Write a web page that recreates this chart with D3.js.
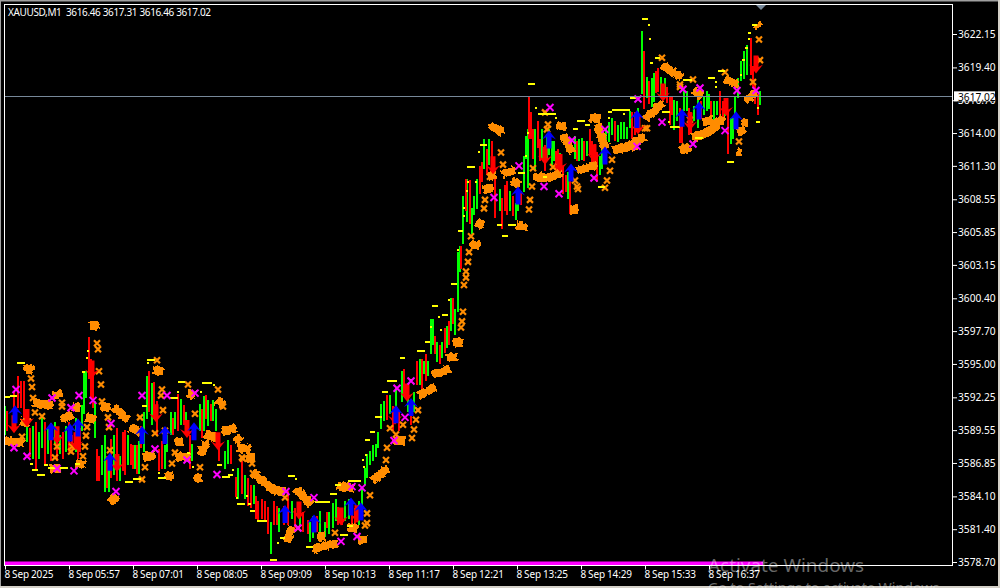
<!DOCTYPE html>
<html><head><meta charset="utf-8">
<script src="https://cdn.jsdelivr.net/npm/d3@7/dist/d3.min.js"></script>
<style>html,body{margin:0;padding:0;background:#000;overflow:hidden}svg{display:block}text{font-family:"Noto Sans",sans-serif}</style>
</head><body><svg id="c" width="1000" height="588"></svg>
<script>
const symbolTitle = "XAUUSD,M1  3616.46 3617.31 3616.46 3617.02";
const lastPrice = 3617.02;
const priceTicks = [3622.15,3619.40,3616.70,3614.00,3611.30,3608.55,3605.85,3603.15,3600.40,3597.70,3595.00,3592.25,3589.55,3586.85,3584.10,3581.40,3578.70];
const timeTickBars = [5,69,133,197,261,325,389,453,517,581,645,709];
const timeTickLabels = ["8 Sep 2025","8 Sep 05:57","8 Sep 07:01","8 Sep 08:05","8 Sep 09:09","8 Sep 10:13","8 Sep 11:17","8 Sep 12:21","8 Sep 13:25","8 Sep 14:29","8 Sep 15:33","8 Sep 16:37"];
const floorLine = {start:5,end:763,price:3578.55};
const lastBar = 761;

// [bar, high, low]
const greenBars = [[5,3591.4,3589.3],[27,3590.6,3588.7],[33,3589.8,3587.3],[39,3589.3,3587.3],[42,3590.4,3588.2],[48,3589.6,3587.7],[55,3590.1,3588.5],[60,3589.0,3587.7],[66,3589.8,3587.9],[76,3590.4,3587.9],[82,3591.5,3589.6],[84,3594.3,3591.0],[86,3594.3,3592.3],[95,3591.8,3589.0],[102,3588.2,3586.0],[105,3589.0,3584.6],[109,3586.8,3584.6],[114,3589.0,3586.0],[120,3587.3,3585.5],
[128,3589.0,3586.8],[135,3588.2,3586.5],[139,3588.5,3586.1],[144,3590.9,3587.9],[147,3593.9,3590.6],[152,3593.3,3590.1],[165,3588.2,3586.5],[167,3589.0,3587.9],[171,3590.9,3589.3],[175,3590.9,3589.8],[181,3592.0,3590.1],[186,3590.9,3589.3],[192,3588.3,3587.1],[200,3591.6,3589.6],[204,3592.2,3589.6],[208,3591.9,3590.0],[213,3591.9,3590.4],[216,3591.2,3589.6],[225,3587.7,3586.5],[228,3588.6,3586.9],[238,3586.3,3584.0],[245,3585.7,3584.0],[254,3584.9,3583.6],
[271,3581.9,3579.5],[279,3583.0,3581.3],[292,3583.6,3582.4],[300,3583.2,3581.9],[310,3581.9,3580.5],[313,3582.4,3580.8],[320,3582.8,3581.3],[325,3581.9,3580.9],[329,3582.7,3581.1],[333,3583.4,3581.6],[336,3583.8,3582.2],[345,3583.6,3582.2],[349,3583.8,3582.4],[359,3583.6,3581.9],[362,3584.6,3582.4],[365,3586.3,3585.2],[367,3587.5,3585.7],[370,3587.7,3586.8],[373,3588.2,3587.1],[376,3588.3,3587.5],[378,3589.3,3588.2],[381,3591.6,3589.8],[384,3591.8,3590.4],[390,3592.3,3591.0],[396,3592.9,3590.6],[402,3594.3,3592.0],[408,3592.6,3591.2],[414,3592.6,3591.2],[420,3595.3,3593.4],[424,3595.1,3594.3],[428,3595.1,3594.1],
[431,3598.6,3595.9],[433,3598.6,3596.7],[437,3596.7,3595.3],[442,3596.7,3595.6],[447,3598.0,3596.4],[451,3600.3,3597.8],[455,3599.4,3597.5],[458,3604.1,3599.4],[460,3604.6,3602.7],[463,3608.7,3605.0],[467,3610.1,3606.8],[472,3607.7,3605.8],[474,3608.7,3607.4],[477,3610.1,3607.9],[484,3613.4,3611.2],[489,3613.4,3611.5],[500,3609.3,3607.7],[510,3609.1,3607.7],[516,3608.1,3607.0],[518,3609.3,3607.7],[524,3612.0,3609.3],[526,3613.6,3612.0],[528,3614.2,3609.6],
[535,3614.2,3611.0],[542,3614.2,3612.0],[547,3613.8,3612.0],[549,3614.2,3612.3],[552,3613.2,3611.5],[554,3613.2,3611.8],[560,3612.2,3611.2],[568,3610.7,3608.7],[575,3613.6,3612.0],[579,3613.4,3611.8],[582,3613.5,3611.9],[587,3613.2,3612.2],[600,3612.0,3610.7],[602,3612.6,3611.2],[606,3614.2,3613.2],[609,3614.8,3613.4],[612,3615.1,3614.0],[618,3614.5,3613.4],[621,3614.8,3613.6],[624,3614.8,3613.6],[627,3614.4,3613.6],[630,3615.7,3614.5],[638,3615.9,3614.8],
[642,3622.3,3617.3],[647,3618.5,3617.0],[652,3618.4,3616.3],[654,3618.8,3616.7],[661,3618.5,3617.0],[665,3618.4,3617.1],[674,3616.6,3614.4],[677,3616.5,3615.1],[684,3617.3,3615.9],[687,3617.3,3615.9],[694,3616.1,3615.1],[698,3616.6,3614.5],[704,3616.9,3615.6],[707,3617.3,3615.9],[709,3617.1,3616.1],[714,3616.5,3615.1],[717,3616.5,3615.6],[725,3616.7,3615.5],[731,3615.1,3613.2],[733,3615.1,3613.6],[735,3616.9,3614.5],[738,3618.4,3617.0],[741,3619.8,3618.4],[744,3620.6,3618.6],[747,3621.1,3618.9],[760,3617.31,3616.46]];
const redBars = [[7,3591.0,3589.6],[14,3592.6,3590.1],[18,3593.9,3591.5],[21,3593.5,3591.5],[24,3593.5,3590.6],[30,3589.6,3587.5],[36,3590.1,3586.5],[45,3590.1,3586.8],[51,3590.0,3587.1],[57,3589.6,3587.1],[63,3589.3,3587.3],[69,3590.1,3587.9],[72,3589.0,3587.7],[78,3589.0,3587.3],[80,3589.6,3587.9],[89,3597.1,3593.9],[91,3595.3,3592.3],[93,3593.9,3591.5],[97,3587.9,3585.5],[99,3587.3,3585.5],[107,3587.3,3584.9],[111,3588.7,3585.7],[117,3589.6,3585.5],[123,3589.3,3586.3],
[125,3589.4,3586.0],[131,3588.3,3586.8],[133,3588.2,3586.5],[137,3588.2,3586.1],[141,3589.8,3588.2],[149,3594.3,3591.2],[154,3593.4,3590.6],[157,3591.8,3589.3],[159,3587.9,3586.3],[162,3588.5,3586.5],[173,3590.4,3589.3],[178,3592.4,3589.6],[184,3591.5,3590.1],[190,3589.0,3586.5],[202,3591.2,3589.0],[206,3592.3,3590.6],[211,3591.6,3590.4],[219,3588.5,3587.1],[231,3588.2,3586.9],[236,3585.6,3584.2],[242,3586.9,3584.4],[248,3585.5,3583.4],[251,3584.9,3583.3],
[256,3584.0,3582.4],[258,3583.6,3582.2],[262,3583.8,3582.4],[265,3583.6,3582.2],[268,3583.1,3581.1],[274,3583.6,3581.9],[277,3583.2,3581.9],[284,3583.2,3581.9],[288,3584.4,3581.9],[295,3583.0,3581.6],[303,3582.7,3581.3],[308,3582.0,3581.1],[317,3582.4,3581.3],[327,3582.7,3581.6],[338,3583.1,3581.9],[342,3582.7,3581.9],[352,3583.2,3581.6],[355,3583.0,3581.9],[387,3592.3,3590.5],[393,3591.4,3589.6],[399,3591.0,3589.6],[404,3594.5,3592.6],[411,3591.8,3590.1],[417,3595.1,3593.4],[422,3595.3,3593.1],[426,3595.7,3593.7],
[435,3597.2,3595.9],[440,3596.4,3595.1],[445,3597.8,3596.0],[449,3598.4,3596.7],[453,3600.3,3598.4],[461,3604.6,3602.9],[466,3610.1,3607.7],[470,3610.0,3606.6],[480,3611.2,3609.1],[482,3611.5,3610.1],[487,3612.6,3610.7],[492,3613.2,3611.5],[495,3610.1,3607.1],[502,3608.5,3606.2],[505,3609.6,3607.7],[507,3609.9,3607.4],[513,3608.7,3607.3],[521,3609.1,3608.2],[529,3616.9,3613.6],[531,3615.6,3613.6],[533,3614.2,3612.0],[538,3614.9,3612.9],[540,3613.4,3611.8],[545,3612.9,3611.0],[556,3612.4,3611.0],[558,3612.6,3610.7],[563,3611.2,3609.1],[566,3610.4,3609.3],[570,3611.2,3607.5],[577,3613.2,3611.8],[584,3613.2,3611.8],[590,3614.2,3612.3],[592,3613.2,3611.5],[595,3613.0,3611.2],[597,3612.3,3610.1],[615,3614.9,3613.5],[632,3615.6,3613.6],[635,3615.6,3614.0],
[644,3620.6,3616.1],[649,3618.2,3616.5],[656,3619.0,3617.4],[658,3619.2,3617.5],[667,3617.7,3616.6],[670,3616.9,3614.8],[672,3616.9,3615.6],[680,3615.9,3613.3],[682,3615.1,3613.3],[689,3615.9,3614.0],[691,3615.6,3614.1],[701,3616.5,3615.3],[711,3616.5,3615.3],[720,3617.3,3615.1],[723,3616.5,3614.8],[728,3615.6,3612.4],[751,3621.7,3618.9],[753,3619.4,3617.8],[755,3617.8,3616.5],[758,3617.1,3615.6]];

// thick overlapping marker runs: lists of [bar, price]
const orangeRuns = [[[5,3588.7],[24,3588.5]],[[24,3594.7],[33,3594.5]],[[33,3591.8],[53,3591.6]],[[53,3592.4],[62,3592.6]],[[62,3590.4],[72,3590.9]],[[72,3591.5],[80,3591.4]],[[86,3590.6],[96,3590.4]],[[76,3586.8],[85,3586.7]],[[50,3586.4],[60,3586.4]],[[21,3590.3],[30,3590.1]],[[90,3598.1],[99,3598.2]],[[101,3591.5],[110,3591.4]],[[113,3591.5],[128,3590.4]],[[110,3583.6],[117,3584.2]],[[153,3594.5],[163,3594.4]],[[130,3589.8],[141,3589.4]],[[175,3588.6],[183,3588.6]],[[143,3587.3],[155,3587.5]],[[175,3587.4],[190,3587.3]],[[165,3585.7],[173,3585.9]],[[187,3592.6],[195,3592.4]],[[198,3587.9],[206,3587.8]],[[202,3588.3],[209,3588.4]],[[194,3585.6],[202,3585.6]],[[217,3592.0],[224,3591.6]],[[205,3589.2],[218,3588.9]],[[222,3589.5],[236,3589.7]],[[235,3589.0],[241,3588.6]],[[238,3588.1],[250,3588.0]],[[246,3587.3],[255,3587.3]],[[253,3586.1],[265,3585.2],[277,3584.4]],[[272,3584.8],[285,3584.4]],[[295,3584.7],[303,3584.2],[311,3583.4]],[[292,3581.6],[287,3580.4]],[[313,3579.7],[322,3580.0],[338,3580.2]],[[317,3580.8],[325,3580.8]],[[348,3581.6],[358,3581.4]],[[358,3580.5],[367,3580.5]],[[337,3585.0],[353,3584.8]],[[373,3585.4],[388,3586.4]],[[393,3588.7],[405,3588.7]],[[418,3592.4],[435,3593.1]],[[433,3594.1],[450,3594.6]],[[447,3595.5],[457,3595.6]],[[453,3596.8],[463,3596.7]],[[470,3604.8],[480,3604.8]],[[477,3606.2],[483,3606.8]],[[483,3609.3],[493,3609.5]],[[488,3610.4],[496,3610.6]],[[490,3614.7],[503,3614.0]],[[502,3610.6],[515,3611.0]],[[512,3610.1],[520,3609.7]],[[517,3606.4],[527,3606.2]],[[533,3610.4],[547,3610.3],[562,3610.7]],[[557,3614.7],[566,3614.5]],[[563,3613.8],[572,3612.4]],[[570,3607.7],[578,3607.7]],[[577,3610.9],[597,3611.4]],[[590,3615.3],[600,3615.1]],[[597,3614.7],[603,3613.4]],[[600,3613.2],[608,3612.9]],[[613,3612.6],[625,3612.8],[645,3613.7]],[[645,3615.1],[663,3616.5]],[[662,3619.6],[682,3618.5]],[[693,3617.5],[702,3617.0]],[[725,3618.4],[738,3618.0]],[[745,3616.7],[757,3617.3]],[[742,3614.9],[748,3614.8]],[[737,3614.1],[745,3614.2]],[[737,3612.5],[741,3612.4]],[[692,3613.6],[710,3614.1],[723,3615.3]],[[703,3614.9],[713,3615.1]],[[680,3612.6],[690,3612.8]],[[757,3622.9],[759,3622.7]],[[630,3612.8],[637,3613.0]]];
const orangeCrosses = [[22,3589.0],[31,3593.8],[32,3593.1],[33,3592.2],[35,3591.0],[42,3590.7],[62,3591.8],[62,3591.5],[87,3589.8],[86,3589.1],[85,3588.2],[83,3587.4],[72,3588.2],[71,3587.8],[57,3588.2],[55,3587.3],[97,3596.7],[98,3596.2],[99,3594.4],[101,3593.3],[102,3591.9],[108,3590.6],[109,3589.8],[110,3587.9],[157,3595.3],[140,3590.6],[162,3592.9],[161,3592.4],[163,3591.2],[155,3589.3],[165,3589.5],[145,3586.5],[175,3587.7],[172,3586.8],[142,3585.5],[188,3593.3],[218,3592.9],[195,3590.9],[200,3586.5],[223,3591.5],[242,3587.3],[252,3586.8],[253,3586.0],[243,3587.2],[285,3584.0],[298,3581.5],[335,3581.1],[367,3582.7],[367,3581.9],[365,3581.7],[370,3584.2],[386,3587.1],[387,3588.1],[390,3589.7],[403,3590.0],[418,3591.2],[416,3590.4],[414,3589.6],[412,3588.9],[396,3589.2],[462,3598.5],[461,3598.0],[463,3599.3],[464,3601.5],[466,3602.6],[466,3602.1],[468,3603.4],[469,3604.2],[471,3605.5],[484,3607.8],[485,3608.5],[501,3612.4],[503,3611.4],[530,3608.5],[529,3607.7],[532,3609.6],[533,3611.1],[545,3615.7],[548,3614.7],[547,3614.3],[553,3611.2],[577,3609.6],[575,3610.1],[578,3609.4],[603,3613.4],[610,3610.9],[607,3610.1],[605,3609.5],[612,3611.8],[645,3614.4],[680,3617.8],[759,3621.7],[760,3620.0],[662,3620.2],[680,3618.0],[693,3618.4],[725,3619.0],[753,3618.2],[739,3613.3],[690,3615.1],[685,3612.9],[647,3614.4],[490,3610.4]];

// [bar start, bar end, price]
const yellowDashes = [[5,10,3592.3],[10,17,3592.4],[17,25,3595.1],[30,33,3586.8],[32,38,3586.3],[37,45,3585.9],[44,48,3586.7],[48,58,3586.4],[60,68,3586.4],[75,80,3586.8],[82,85,3594.3],[86,88,3595.5],[87,89,3596.1],[147,155,3595.3],[147,149,3595.1],[142,147,3591.5],[125,133,3585.3],[133,141,3585.5],[158,166,3585.6],[158,160,3586.0],[170,178,3592.2],[177,179,3592.7],[178,185,3593.5],[202,212,3593.4],[200,202,3592.7],[213,215,3593.3],[187,190,3587.7],[192,194,3586.5],[217,222,3586.7],[222,230,3585.7],[228,233,3585.9],[232,234,3586.3],[237,245,3583.5],[248,251,3583.5],[250,255,3582.9],[246,248,3584.1],[236,238,3584.0],[257,267,3582.1],[270,277,3578.9],[277,279,3580.3],[280,285,3580.7],[306,313,3579.9],[340,348,3580.9],[347,353,3581.7],[315,322,3583.6],[322,330,3583.6],[330,337,3584.3],[288,295,3585.8],[295,297,3585.5],[335,341,3585.0],[348,361,3585.4],[363,365,3586.5],[362,364,3587.1],[365,367,3587.5],[365,370,3588.7],[370,375,3589.4],[375,382,3590.6],[382,388,3592.7],[387,397,3593.6],[400,405,3595.5],[410,412,3593.7],[417,425,3596.1],[425,430,3596.8],[430,432,3598.0],[432,438,3599.8],[438,440,3598.9],[442,448,3599.0],[448,450,3600.3],[440,442,3597.8],[451,457,3601.6],[457,459,3604.4],[458,463,3605.9],[463,465,3607.2],[463,465,3607.8],[466,468,3609.2],[467,469,3610.0],[467,475,3611.2],[475,477,3610.0],[478,480,3612.4],[480,487,3613.0],[497,502,3606.4],[502,508,3605.5],[508,516,3606.4],[518,525,3610.7],[525,527,3612.1],[527,529,3614.0],[528,535,3618.0],[535,537,3616.1],[538,548,3615.6],[548,556,3615.6],[555,557,3615.2],[577,585,3615.0],[585,590,3614.7],[573,578,3614.3],[608,612,3615.7],[612,630,3615.9],[608,610,3615.2],[623,625,3615.6],[662,670,3615.7],[670,680,3614.5],[598,605,3609.6],[543,547,3610.4],[642,648,3623.4],[648,650,3622.9],[649,651,3621.7],[650,653,3619.8],[655,660,3620.2],[630,636,3616.9],[668,670,3614.9],[683,692,3618.4],[695,703,3613.6],[708,715,3618.5],[715,717,3618.2],[715,717,3617.8],[718,725,3619.1],[727,734,3611.6],[742,745,3620.0],[740,742,3618.8],[745,748,3621.0],[748,751,3622.2],[752,757,3622.9],[748,750,3621.7],[756,760,3614.9],[757,759,3616.1]];

const magentaCrosses = [[16,3592.9],[14,3588.1],[27,3587.4],[52,3592.2],[57,3586.4],[71,3591.4],[74,3586.2],[79,3592.4],[93,3592.0],[111,3590.1],[116,3584.5],[142,3592.4],[167,3592.4],[155,3588.0],[195,3592.6],[187,3587.1],[217,3585.9],[286,3584.5],[314,3584.0],[298,3581.5],[341,3580.4],[357,3580.8],[352,3584.9],[362,3584.8],[397,3593.0],[411,3593.6],[405,3590.6],[394,3588.7],[494,3608.7],[519,3611.3],[550,3616.1],[544,3609.6],[559,3609.0],[572,3613.4],[605,3614.3],[594,3610.3],[638,3616.8],[662,3614.9],[637,3612.9],[683,3617.6],[700,3617.7],[693,3613.1],[725,3614.2],[737,3617.5],[756,3617.5]];
const blueArrows = [[15,3591.6],[51,3590.2],[70,3590.1],[78,3590.5],[110,3587.7],[142,3589.9],[165,3589.9],[194,3590.2],[285,3583.4],[314,3582.6],[351,3584.0],[361,3583.6],[396,3591.6],[411,3592.2],[518,3609.6],[549,3614.2],[571,3611.5],[605,3612.9],[637,3615.9],[682,3616.0],[699,3616.6],[736,3615.8]];
const redArrows = [[14,3589.3],[27,3589.8],[57,3588.4],[76,3587.9],[92,3593.8],[117,3586.1],[156,3590.2],[187,3588.9],[218,3587.9],[299,3582.2],[341,3581.7],[357,3581.9],[395,3590.0],[407,3591.9],[493,3610.6],[545,3611.4],[560,3610.8],[594,3611.6],[638,3613.9],[663,3616.6],[690,3614.2],[726,3615.4],[756,3618.9]];

const svg = d3.select("#c");
const x = d3.scaleLinear().domain([4,952]).range([4,952]);
const y = d3.scaleLinear().domain([3578.70,3622.15]).range([562,34]);
const line = d3.line().x(d=>x(d[0])).y(d=>y(d[1]));

// rough edge for the dense marker runs
const flt = svg.append("defs").append("filter").attr("id","rough").attr("filterUnits","userSpaceOnUse")
  .attr("x",0).attr("y",0).attr("width",1000).attr("height",588);
flt.append("feTurbulence").attr("type","fractalNoise").attr("baseFrequency",0.3).attr("numOctaves",1).attr("seed",4).attr("result","n");
flt.append("feDisplacementMap").attr("in","SourceGraphic").attr("in2","n").attr("scale",5).attr("xChannelSelector","R").attr("yChannelSelector","G").attr("result","d");
const ct = flt.append("feComponentTransfer").attr("in","d");
ct.append("feFuncA").attr("type","discrete").attr("tableValues","0 1 1 1");

// window edge
svg.append("rect").attr("width",1000).attr("height",1.5).attr("fill","#a0a0a0");
svg.append("rect").attr("width",1).attr("height",588).attr("fill","#a0a0a0");
svg.append("rect").attr("x",998).attr("width",2).attr("height",588).attr("fill","#d4d0c8");
svg.append("rect").attr("y",586).attr("width",1000).attr("height",2).attr("fill","#d4d0c8");

const plot = svg.append("g");
function bars(data,color){
  plot.append("g").attr("stroke",color).attr("stroke-width",2).attr("shape-rendering","crispEdges")
    .selectAll("line").data(data).join("line")
    .attr("x1",d=>x(d[0])).attr("x2",d=>x(d[0])).attr("y1",d=>y(d[1])-1.5).attr("y2",d=>y(d[2])+1.5);
}
bars(greenBars,"#00ff00");
bars(redBars,"#ff0000");

plot.append("g").attr("fill","none").attr("stroke","#ff8c00").attr("stroke-width",8).attr("filter","url(#rough)")
  .selectAll("path").data(orangeRuns).join("path").attr("d",line);
function crosses(data,color,r,w){
  plot.append("g").attr("fill","none").attr("stroke",color).attr("stroke-width",w)
    .selectAll("path").data(data).join("path")
    .attr("transform",d=>`translate(${x(d[0])},${y(d[1])})`)
    .attr("d",`M${-r},${-r}L${r},${r}M${-r},${r}L${r},${-r}`);
}
crosses(orangeCrosses,"#ff8c00",3,2.2);

plot.append("g").attr("stroke","#ffff00").attr("stroke-width",2).attr("shape-rendering","crispEdges")
  .selectAll("line").data(yellowDashes).join("line")
  .attr("x1",d=>x(d[0])).attr("x2",d=>x(d[1])).attr("y1",d=>y(d[2])).attr("y2",d=>y(d[2]));

const upShape = "M0,0L7,9L2.5,6.5L2.5,18L-2.5,18L-2.5,6.5L-7,9Z";
const downShape = "M0,0L7,-9L2.5,-6.5L2.5,-18L-2.5,-18L-2.5,-6.5L-7,-9Z";
function arrows(data,color,shape){
  plot.append("g").attr("fill",color).selectAll("path").data(data).join("path")
    .attr("transform",d=>`translate(${x(d[0])},${y(d[1])})`).attr("d",shape);
}
arrows(redArrows,"#ff0000",downShape);
arrows(blueArrows,"#0000ff",upShape);
crosses(magentaCrosses,"#ff00ff",3.5,2);

// bottom magenta band
plot.append("line").attr("x1",x(floorLine.start)).attr("x2",x(floorLine.end))
  .attr("y1",y(floorLine.price)).attr("y2",y(floorLine.price))
  .attr("stroke","#ff00ff").attr("stroke-width",4.5);

// frame
svg.append("rect").attr("x",4.5).attr("y",4.5).attr("width",948).attr("height",561)
  .attr("fill","none").attr("stroke","#fff").attr("stroke-width",1);

// current price line
svg.append("line").attr("x1",5).attr("x2",952).attr("y1",y(lastPrice)).attr("y2",y(lastPrice))
  .attr("stroke","#778899").attr("stroke-width",1).attr("shape-rendering","crispEdges");

// last-bar marker
svg.append("path").attr("d",`M${x(lastBar)-5},5L${x(lastBar)+5},5L${x(lastBar)},10Z`).attr("fill","#778899");

// axes
const axY = d3.axisRight(y).tickValues(priceTicks).tickFormat(d3.format(".2f")).tickSize(4).tickPadding(1);
const gy = svg.append("g").attr("transform","translate(953,0)").call(axY);
const axX = d3.axisBottom(x).tickValues(timeTickBars).tickFormat((d,i)=>timeTickLabels[i]).tickSize(4).tickPadding(1);
const gx = svg.append("g").attr("transform","translate(0,565.5)").call(axX);
gy.select(".domain").remove(); gx.select(".domain").remove();
for (const g of [gx,gy]) { g.selectAll("line").attr("stroke","#fff"); g.selectAll("text").attr("fill","#fff").attr("font-size",10.2).style("font-family",'"Noto Sans",sans-serif'); }
gx.selectAll("text").attr("text-anchor","start").attr("dx",-1).attr("font-size",10).style("word-spacing","-0.5px").style("letter-spacing","-0.12px");

// price label
svg.append("rect").attr("x",954).attr("y",y(lastPrice)-5).attr("width",41).attr("height",10).attr("fill","#fff");
svg.append("text").attr("x",958).attr("y",y(lastPrice)+4.2).attr("font-size",10.2).attr("fill","#000").text(d3.format(".2f")(lastPrice));

// title
svg.append("text").attr("x",8).attr("y",16).attr("font-size",10).attr("fill","#fff").style("white-space","pre")
  .attr("textLength",203).attr("lengthAdjust","spacing").text(symbolTitle);

// OS watermark
svg.append("text").attr("x",708).attr("y",572).attr("font-size",18.9).attr("fill","#fff").attr("fill-opacity",.42).text("Activate Windows");
svg.append("text").attr("x",708).attr("y",593).attr("font-size",14.2).attr("fill","#fff").attr("fill-opacity",.42).text("Go to Settings to activate Windows.");
</script></body></html>
